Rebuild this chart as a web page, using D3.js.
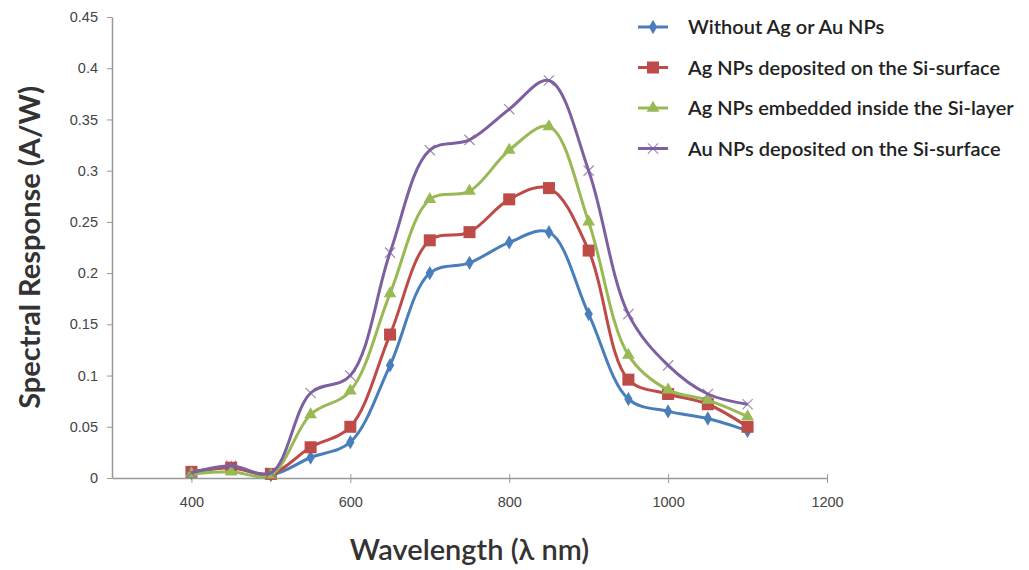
<!DOCTYPE html>
<html>
<head>
<meta charset="utf-8">
<script src="https://cdn.jsdelivr.net/npm/d3@7"></script>
<style>
  body { margin: 0; background: #fff; }
  svg { font-family: Lato, "Open Sans", sans-serif; }
  .tick text { fill: #444; font-size: 14.5px; }
</style>
</head>
<body>
<div id="chart"></div>
<script>
// wavelength (nm)
const wavelengths = [400, 450, 500, 550, 600, 650, 700, 750, 800, 850, 900, 950, 1000, 1050, 1100];

const withoutNPs   = [0.005, 0.010, 0.003, 0.020, 0.035, 0.110, 0.200, 0.210, 0.230, 0.240, 0.160, 0.077, 0.065, 0.058, 0.046];
const agDeposited  = [0.006, 0.010, 0.004, 0.030, 0.050, 0.140, 0.232, 0.240, 0.272, 0.283, 0.222, 0.096, 0.082, 0.072, 0.050];
const agEmbedded   = [0.004, 0.006, 0.003, 0.062, 0.085, 0.180, 0.272, 0.280, 0.320, 0.343, 0.250, 0.120, 0.086, 0.076, 0.060];
const auDeposited  = [0.005, 0.012, 0.005, 0.083, 0.100, 0.220, 0.320, 0.330, 0.360, 0.388, 0.300, 0.160, 0.110, 0.082, 0.072];

const seriesNames = [
  'Without Ag or Au NPs',
  'Ag NPs deposited on the Si-surface',
  'Ag NPs embedded inside the Si-layer',
  'Au NPs deposited on the Si-surface'
];
const seriesValues = [withoutNPs, agDeposited, agEmbedded, auDeposited];
const seriesColors = ['#4A7EBB', '#BE4B48', '#98B954', '#7D60A0'];
const seriesMarkers = ['diamond', 'square', 'triangle', 'cross'];

const xTicks = [400, 600, 800, 1000, 1200];
const yTicks = [0, 0.05, 0.1, 0.15, 0.2, 0.25, 0.3, 0.35, 0.4, 0.45];

const width = 1029, height = 570;
const margin = {top: 17, right: 202, bottom: 92, left: 112};

const svg = d3.select('#chart').append('svg')
  .attr('width', width)
  .attr('height', height);

const xScale = d3.scaleLinear().domain([300, 1200]).range([margin.left, width - margin.right]);
const yScale = d3.scaleLinear().domain([0, 0.45]).range([height - margin.bottom, margin.top]);

// axes
const xAxis = svg.append('g')
  .attr('transform', `translate(0,${height - margin.bottom})`)
  .call(d3.axisBottom(xScale).tickValues(xTicks).tickSize(5).tickPadding(14).tickSizeOuter(0)
    .tickFormat(d3.format('d')));
const yAxis = svg.append('g')
  .attr('transform', `translate(${margin.left},0)`)
  .call(d3.axisLeft(yScale).tickValues(yTicks).tickSize(5).tickPadding(9).tickSizeOuter(0)
    .tickFormat(d => d === 0 ? '0' : String(+d.toFixed(2))));
[xAxis, yAxis].forEach(a => {
  a.select('.domain').attr('stroke', '#999').attr('stroke-width', 1.5);
  a.selectAll('.tick line').attr('stroke', '#999');
});
// x axis ticks sit half above/below the line in the original
xAxis.selectAll('.tick line').attr('y1', -4).attr('y2', 5);

// axis titles
svg.append('text')
  .attr('transform', `translate(40,${yScale(0.225)}) rotate(-90)`)
  .attr('text-anchor', 'middle')
  .style('font-size', '29px')
  .style('font-weight', 'bold')
  .style('fill', '#333')
  .text('Spectral Response (A/W)');

svg.append('text')
  .attr('x', xScale(750))
  .attr('y', 560)
  .attr('text-anchor', 'middle')
  .style('font-size', '29px')
  .style('font-weight', '600')
  .style('fill', '#333')
  .text('Wavelength (\u03bb nm)');

const line = d3.line()
  .x(d => xScale(d[0]))
  .y(d => yScale(d[1]))
  .curve(d3.curveCatmullRom.alpha(0.5));

function drawMarker(g, type, color, cx, cy) {
  if (type === 'diamond') {
    g.append('path')
      .attr('d', d3.symbol(d3.symbolDiamond, 60)())
      .attr('transform', `translate(${cx},${cy})`)
      .attr('fill', color);
  } else if (type === 'square') {
    g.append('rect')
      .attr('x', cx - 6).attr('y', cy - 6)
      .attr('width', 12).attr('height', 12)
      .attr('fill', color);
  } else if (type === 'triangle') {
    g.append('path')
      .attr('d', d3.symbol(d3.symbolTriangle, 70)())
      .attr('transform', `translate(${cx},${cy})`)
      .attr('fill', color);
  } else {
    g.append('path')
      .attr('d', d3.symbol(d3.symbolX, 70)())
      .attr('transform', `translate(${cx},${cy})`)
      .attr('fill', 'none')
      .attr('stroke', color)
      .attr('stroke-width', 1.3)
      .attr('opacity', 0.7);
  }
}

const plot = svg.append('g');
seriesValues.forEach((vals, i) => {
  const pts = wavelengths.map((w, j) => [w, vals[j]]);
  plot.append('path')
    .datum(pts)
    .attr('d', line)
    .attr('fill', 'none')
    .attr('stroke', seriesColors[i])
    .attr('stroke-width', 3);
  const mg = plot.append('g');
  pts.forEach(p => drawMarker(mg, seriesMarkers[i], seriesColors[i], xScale(p[0]), yScale(p[1])));
});

// legend
const legend = svg.append('g').attr('transform', 'translate(638,27)');
seriesNames.forEach((name, i) => {
  const row = legend.append('g').attr('transform', `translate(0,${i * 40.5})`);
  row.append('line')
    .attr('x1', 0).attr('x2', 30)
    .attr('stroke', seriesColors[i])
    .attr('stroke-width', 3);
  drawMarker(row, seriesMarkers[i], seriesColors[i], 15, 0);
  row.append('text')
    .attr('x', 50)
    .attr('dy', '0.35em')
    .style('font-size', '20px')
    .style('font-weight', '600')
    .style('fill', '#222')
    .text(name);
});
</script>
</body>
</html>
